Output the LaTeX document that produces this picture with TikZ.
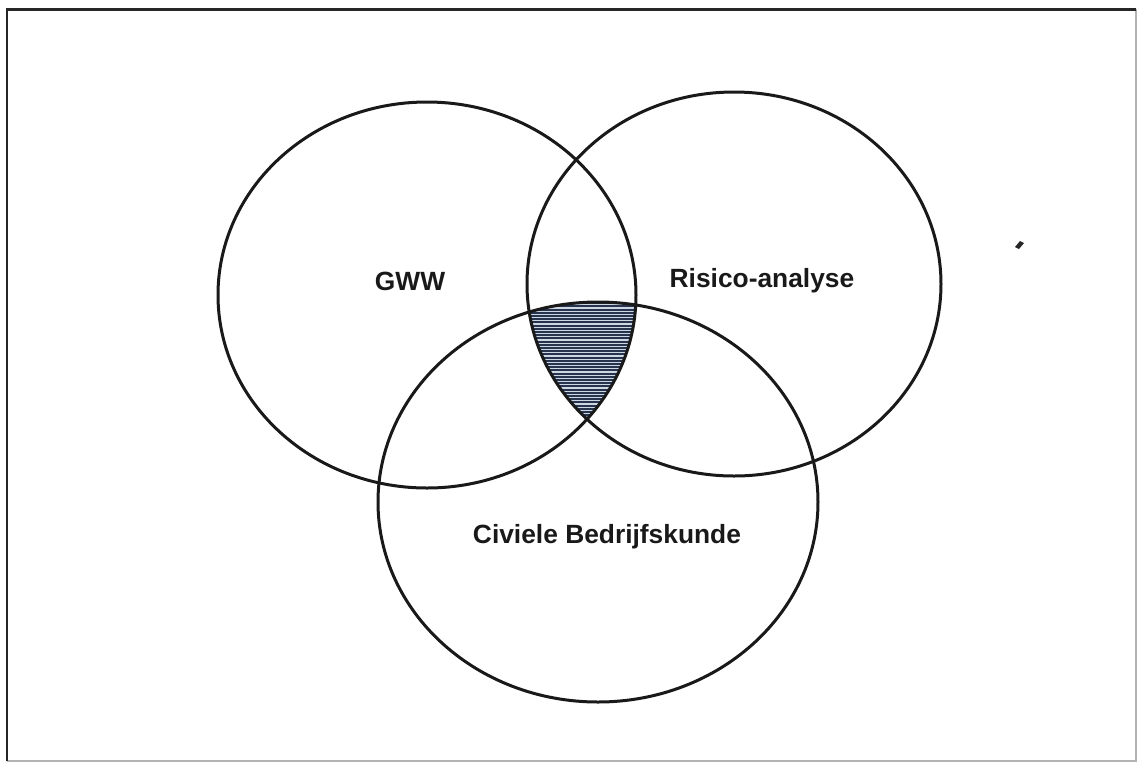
\documentclass[tikz,border=0pt]{standalone}
\usepackage{fontspec}
\setmainfont{Liberation Sans}
\definecolor{hatchink}{RGB}{38,52,78}
\definecolor{hatchbg}{RGB}{205,214,226}
\begin{document}
\begin{tikzpicture}[x=0.02cm, y=-0.02cm,
  ring/.style={draw=black!90, line width=0.06cm},
  label/.style={font=\bfseries\fontsize{15}{18}\selectfont, text=black!90, inner sep=0pt},
  hatch/.style={draw=hatchink, line width=0.042cm}]
  \useasboundingbox (0,0) rectangle (1137,762);
  % outer frame, its lower and right edges printed faintly
  \draw[black!30, line width=0.05cm] (7,761) -- (1136,761) -- (1136,9);
  \draw[black!85, line width=0.06cm] (7,761) -- (7,9) -- (1136,9);
  % common overlap of the three fields, hatched horizontally
  \begin{scope}
    \clip (427,295) ellipse [x radius=209, y radius=193];
    \clip (734,284) ellipse [x radius=207, y radius=192];
    \clip (598,502) ellipse [x radius=220, y radius=200];
    \fill[hatchbg] (500,290) rectangle (700,430);
    \foreach \k in {0,...,42} {
      \draw[hatch] (500,{300+3.2*\k}) -- (700,{300+3.2*\k});
    }
  \end{scope}
  % the three fields
  \draw[ring] (427,295) ellipse [x radius=209, y radius=193];
  \draw[ring] (734,284) ellipse [x radius=207, y radius=192];
  \draw[ring] (598,502) ellipse [x radius=220, y radius=200];
  % labels
  \node[label] (gww) at (410,281) {GWW};
  \node[label] (risico) at (762,281) {Risico-analyse};
  \node[label] (civiel) at (607,537) {Civiele Bedrijfskunde};
  % small speck
  \fill[black!85] (1015,247) -- (1020,241) -- (1024,243) -- (1019,249) -- cycle;
\end{tikzpicture}
\end{document}
